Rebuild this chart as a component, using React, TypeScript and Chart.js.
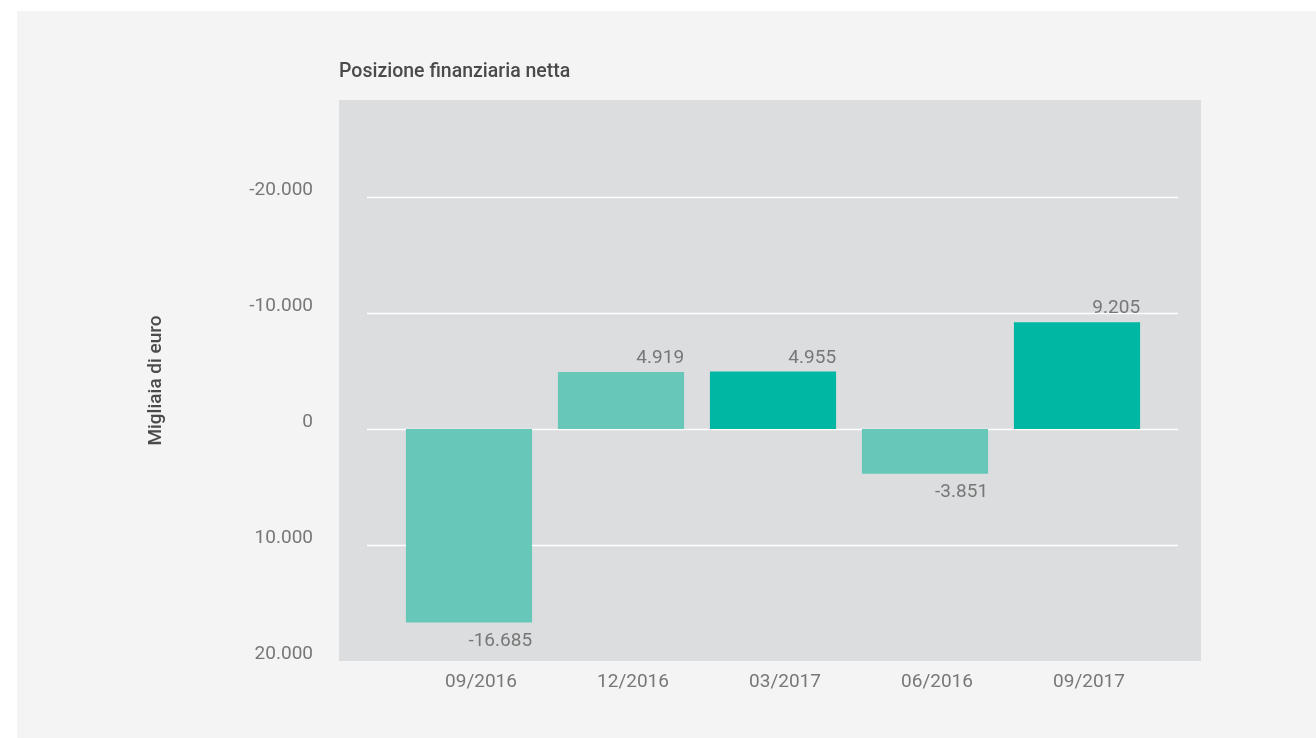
import React, { useEffect, useRef } from 'react';
import { Chart, registerables } from 'chart.js';

Chart.register(...registerables);

const categories = ['09/2016', '12/2016', '03/2017', '06/2016', '09/2017'];
const values = [-16685, 4919, 4955, -3851, 9205];
const barColors = ['#67c7b8', '#67c7b8', '#00b7a4', '#67c7b8', '#00b7a4'];
const yTicks = [-20000, -10000, 0, 10000, 20000];
const gridValues = [20000, 10000, 0, -10000];
const chartTitle = 'Posizione finanziaria netta';
const yTitle = 'Migliaia di euro';

const FONT = 'Roboto, "Noto Sans", sans-serif';

const fmt = (v: number) => {
  const s = Math.abs(Math.round(v)).toString().replace(/\B(?=(\d{3})+(?!\d))/g, '.');
  return (v < 0 ? '-' : '') + s;
};

const backgroundPlugin = {
  id: 'bgPlot',
  beforeDraw(chart: any) {
    const { ctx, chartArea } = chart;
    const y = chart.scales.y;
    ctx.save();
    ctx.fillStyle = '#dcdddf';
    ctx.fillRect(chartArea.left - 54, chartArea.top, chartArea.right - chartArea.left + 102, chartArea.bottom - chartArea.top);
    ctx.strokeStyle = '#ffffff';
    ctx.lineWidth = 1.5;
    gridValues.forEach((v) => {
      const py = Math.round(y.getPixelForValue(v)) + 0.5;
      ctx.beginPath();
      ctx.moveTo(chartArea.left - 26, py);
      ctx.lineTo(chartArea.right + 25, py);
      ctx.stroke();
    });
    ctx.fillStyle = '#4a4a4a';
    ctx.font = `500 19.5px ${FONT}`;
    ctx.textAlign = 'left';
    ctx.textBaseline = 'middle';
    ctx.fillText(chartTitle, chartArea.left - 54, 72);
    ctx.restore();
  },
};

const valueLabelPlugin = {
  id: 'valueLabels',
  afterDatasetsDraw(chart: any) {
    const { ctx } = chart;
    const meta = chart.getDatasetMeta(0);
    ctx.save();
    ctx.fillStyle = '#777777';
    ctx.font = `19px ${FONT}`;
    ctx.textAlign = 'right';
    ctx.textBaseline = 'alphabetic';
    meta.data.forEach((bar: any, i: number) => {
      const v = values[i];
      const right = bar.x + bar.width / 2;
      const top = Math.min(bar.y, bar.base);
      const bottom = Math.max(bar.y, bar.base);
      if (v >= 0) ctx.fillText(fmt(v), right, top - 9);
      else ctx.fillText(fmt(v), right, bottom + 23);
    });
    ctx.restore();
  },
};

export default function App() {
  const ref = useRef<HTMLCanvasElement | null>(null);

  useEffect(() => {
    if (!ref.current) return;
    const chart = new Chart(ref.current, {
      type: 'bar',
      data: {
        labels: categories,
        datasets: [
          {
            data: values,
            backgroundColor: barColors,
            borderWidth: 0,
            categoryPercentage: 1,
            barPercentage: 0.83,
          },
        ],
      },
      options: {
        animation: false,
        responsive: false,
        maintainAspectRatio: false,
        layout: { padding: { left: 145, right: 163, top: 100, bottom: 37 } },
        plugins: {
          legend: { display: false },
          tooltip: { enabled: false },
          title: { display: false },
        },
        scales: {
          x: {
            grid: { display: false },
            border: { display: false },
            ticks: {
              color: '#777777',
              font: { family: FONT, size: 19 },
              padding: 2,
              labelOffset: 12,
              maxRotation: 0,
            },
            afterFit: (s: any) => {
              s.height = 40;
            },
          },
          y: {
            min: -20000,
            max: 28360,
            grid: { display: false },
            border: { display: false },
            afterBuildTicks: (s: any) => {
              s.ticks = yTicks.map((v) => ({ value: v }));
            },
            ticks: {
              color: '#777777',
              font: { family: FONT, size: 19 },
              padding: 72,
              labelOffset: -7,
              callback: (v: any) => (Number(v) === 0 ? '0' : fmt(-Number(v))),
            },
            title: {
              display: true,
              text: yTitle,
              color: '#4a4a4a',
              font: { family: FONT, size: 19, weight: '500' },
              padding: { top: 0, bottom: 0 },
            },
            afterFit: (s: any) => {
              s.width = 248;
              s.paddingTop = 0;
              s.paddingBottom = 0;
            },
          },
        },
      },
      plugins: [backgroundPlugin, valueLabelPlugin],
    } as any);
    return () => chart.destroy();
  }, []);

  return (
    <div style={{ position: 'absolute', left: 0, top: 0, width: 1316, height: 738, background: '#ffffff', overflow: 'hidden' }}>
      <div style={{ position: 'absolute', left: 17, top: 11, width: 1299, height: 727, background: '#f4f4f4' }} />
      <canvas ref={ref} width={1316} height={738} style={{ position: 'absolute', left: 0, top: 0, width: 1316, height: 738 }} />
    </div>
  );
}
